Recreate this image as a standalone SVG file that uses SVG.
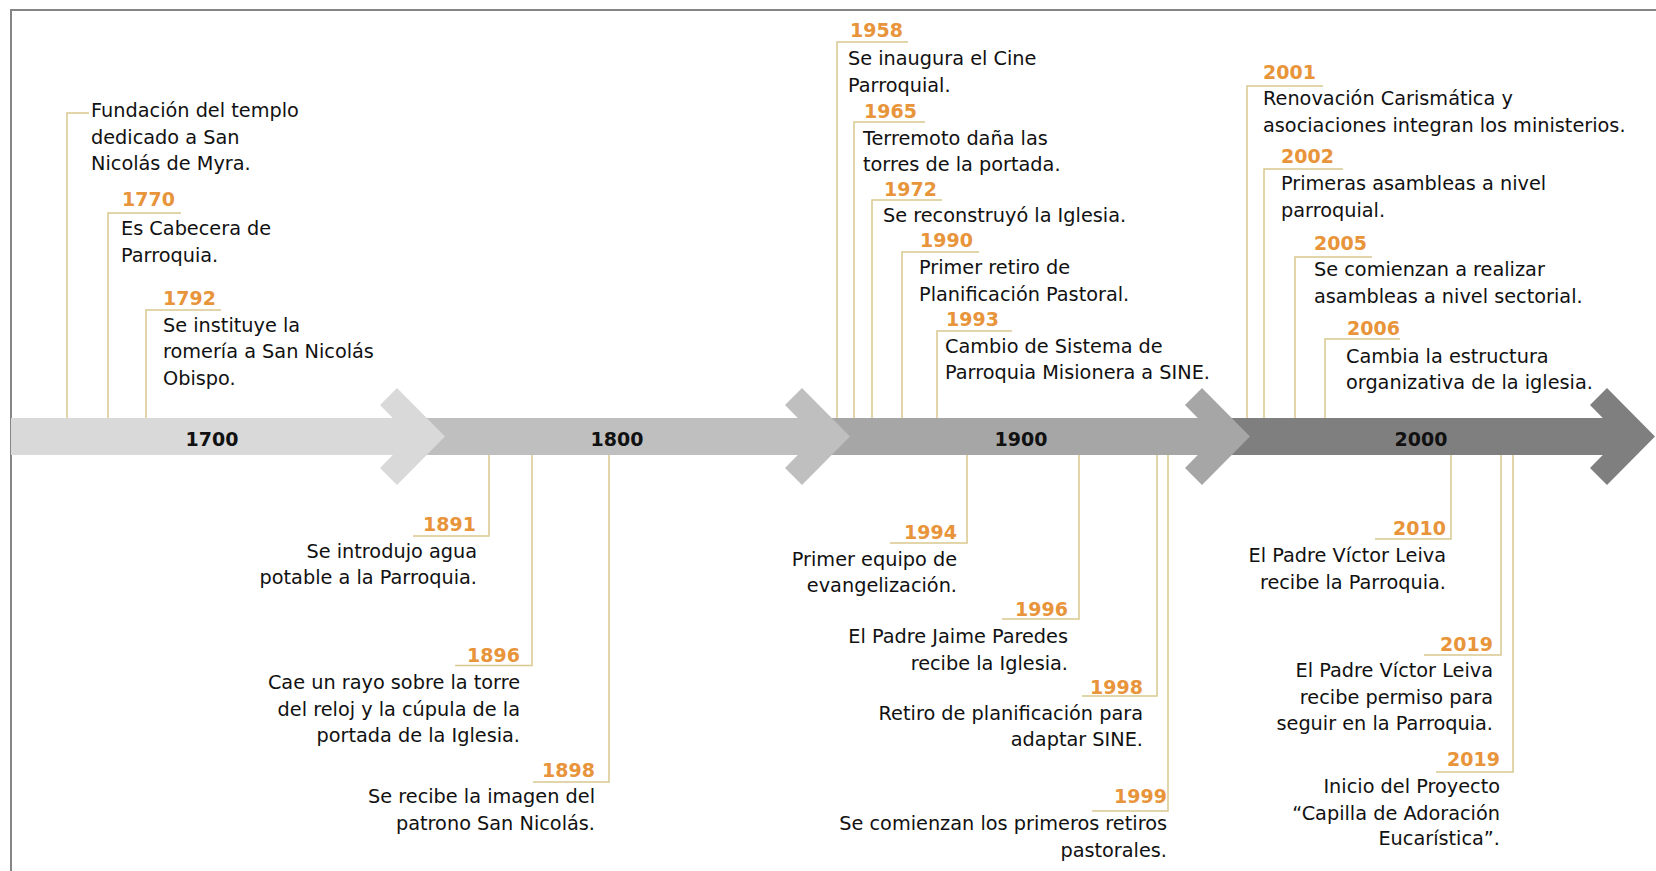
<svg xmlns="http://www.w3.org/2000/svg" width="1656" height="871" viewBox="0 0 1656 871">
<style>
.t{font-family:"DejaVu Sans","Liberation Sans",sans-serif;font-size:19.3px;fill:#111111}
.r{text-anchor:end}
.y{font-family:"DejaVu Sans","Liberation Sans",sans-serif;font-size:19px;font-weight:bold;fill:#e8943a}
.b{font-family:"DejaVu Sans","Liberation Sans",sans-serif;font-size:19px;font-weight:bold;fill:#111;text-anchor:middle}
.c{fill:none;stroke:#d9c88e;stroke-width:1.5}
.frame{fill:none;stroke:#858585;stroke-width:2}
</style>
<rect width="1656" height="871" fill="#ffffff"/>
<path class="frame" d="M11,871 V10 H1656"/>

<g id="axis">
  <g id="seg2000" fill="#7f7f7f">
    <rect x="1216" y="418" width="410" height="37"/>
    <polygon points="1590,405 1607,388 1655,436.5 1607,485 1590,468 1621,436.5"/>
    <text class="b" x="1421" y="446">2000</text>
  </g>
  <g id="seg1900" fill="#a6a6a6">
    <rect x="816" y="418" width="410" height="37"/>
    <polygon points="1185,405 1202,388 1250,436.5 1202,485 1185,468 1216,436.5"/>
    <text class="b" x="1021" y="446">1900</text>
  </g>
  <g id="seg1800" fill="#bfbfbf">
    <rect x="411" y="418" width="412" height="37"/>
    <polygon points="785,405 802,388 850,436.5 802,485 785,468 816,436.5"/>
    <text class="b" x="617" y="446">1800</text>
  </g>
  <g id="seg1700" fill="#d9d9d9">
    <rect x="11" y="418" width="407" height="37"/>
    <polygon points="380,405 397,388 445,436.5 397,485 380,468 411,436.5"/>
    <text class="b" x="212" y="446">1700</text>
  </g>
</g>

<g id="connectors">
  <polyline class="c" points="89,113 67,113 67,418"/>
  <polyline class="c" points="181,213 108,213 108,418"/>
  <polyline class="c" points="221,310 146,310 146,418"/>
  <polyline class="c" points="908,42 837,42 837,418"/>
  <polyline class="c" points="925,122 854,122 854,418"/>
  <polyline class="c" points="942,200 872,200 872,418"/>
  <polyline class="c" points="979,252 902,252 902,418"/>
  <polyline class="c" points="1012,331 937,331 937,418"/>
  <polyline class="c" points="1323,86 1247,86 1247,418"/>
  <polyline class="c" points="1343,169 1264,169 1264,418"/>
  <polyline class="c" points="1372,257 1295,257 1295,418"/>
  <polyline class="c" points="1400,339 1325,339 1325,418"/>
  <polyline class="c" points="413,536 489,536 489,455"/>
  <polyline class="c" points="455,665.5 532,665.5 532,455"/>
  <polyline class="c" points="533,782 609,782 609,455"/>
  <polyline class="c" points="890,543 967,543 967,455"/>
  <polyline class="c" points="1002,619 1079,619 1079,455"/>
  <polyline class="c" points="1082,696 1157,696 1157,455"/>
  <polyline class="c" points="1092,811 1168,811 1168,455"/>
  <polyline class="c" points="1375,539 1451,539 1451,455"/>
  <polyline class="c" points="1424,655 1501,655 1501,455"/>
  <polyline class="c" points="1436,772 1513,772 1513,455"/>
</g>

<g id="e-fundacion">
  <text class="t" x="91" y="117">Fundación del templo</text>
  <text class="t" x="91" y="143.5">dedicado a San</text>
  <text class="t" x="91" y="170">Nicolás de Myra.</text>
</g>
<g id="e-1770">
  <text class="y" x="122" y="206">1770</text>
  <text class="t" x="121" y="235">Es Cabecera de</text>
  <text class="t" x="121" y="261.5">Parroquia.</text>
</g>
<g id="e-1792">
  <text class="y" x="163" y="305">1792</text>
  <text class="t" x="163" y="331.5">Se instituye la</text>
  <text class="t" x="163" y="358">romería a San Nicolás</text>
  <text class="t" x="163" y="384.5">Obispo.</text>
</g>
<g id="e-1891">
  <text class="y r" x="476" y="531">1891</text>
  <text class="t r" x="477" y="557.5">Se introdujo agua</text>
  <text class="t r" x="477" y="584">potable a la Parroquia.</text>
</g>
<g id="e-1896">
  <text class="y r" x="520" y="662">1896</text>
  <text class="t r" x="520" y="689">Cae un rayo sobre la torre</text>
  <text class="t r" x="520" y="716">del reloj y la cúpula de la</text>
  <text class="t r" x="520" y="742">portada de la Iglesia.</text>
</g>
<g id="e-1898">
  <text class="y r" x="595" y="777">1898</text>
  <text class="t r" x="595" y="803">Se recibe la imagen del</text>
  <text class="t r" x="595" y="830">patrono San Nicolás.</text>
</g>
<g id="e-1958">
  <text class="y" x="850" y="37">1958</text>
  <text class="t" x="848" y="65">Se inaugura el Cine</text>
  <text class="t" x="848" y="91.5">Parroquial.</text>
</g>
<g id="e-1965">
  <text class="y" x="864" y="118">1965</text>
  <text class="t" x="863" y="144.5">Terremoto daña las</text>
  <text class="t" x="863" y="171">torres de la portada.</text>
</g>
<g id="e-1972">
  <text class="y" x="884" y="196">1972</text>
  <text class="t" x="883" y="221.5">Se reconstruyó la Iglesia.</text>
</g>
<g id="e-1990">
  <text class="y" x="920" y="247">1990</text>
  <text class="t" x="919" y="274">Primer retiro de</text>
  <text class="t" x="919" y="300.5">Planificación Pastoral.</text>
</g>
<g id="e-1993">
  <text class="y" x="946" y="326">1993</text>
  <text class="t" x="945" y="352.5">Cambio de Sistema de</text>
  <text class="t" x="945" y="379">Parroquia Misionera a SINE.</text>
</g>
<g id="e-1994">
  <text class="y r" x="957" y="539">1994</text>
  <text class="t r" x="957" y="566">Primer equipo de</text>
  <text class="t r" x="957" y="592">evangelización.</text>
</g>
<g id="e-1996">
  <text class="y r" x="1068" y="616">1996</text>
  <text class="t r" x="1068" y="643">El Padre Jaime Paredes</text>
  <text class="t r" x="1068" y="669.5">recibe la Iglesia.</text>
</g>
<g id="e-1998">
  <text class="y r" x="1143" y="694">1998</text>
  <text class="t r" x="1143" y="720">Retiro de planificación para</text>
  <text class="t r" x="1143" y="746">adaptar SINE.</text>
</g>
<g id="e-1999">
  <text class="y r" x="1167" y="803">1999</text>
  <text class="t r" x="1167" y="830">Se comienzan los primeros retiros</text>
  <text class="t r" x="1167" y="856.5">pastorales.</text>
</g>
<g id="e-2001">
  <text class="y" x="1263" y="79">2001</text>
  <text class="t" x="1263" y="105">Renovación Carismática y</text>
  <text class="t" x="1263" y="131.5">asociaciones integran los ministerios.</text>
</g>
<g id="e-2002">
  <text class="y" x="1281" y="163">2002</text>
  <text class="t" x="1281" y="190">Primeras asambleas a nivel</text>
  <text class="t" x="1281" y="216.5">parroquial.</text>
</g>
<g id="e-2005">
  <text class="y" x="1314" y="249.5">2005</text>
  <text class="t" x="1314" y="276">Se comienzan a realizar</text>
  <text class="t" x="1314" y="302.5">asambleas a nivel sectorial.</text>
</g>
<g id="e-2006">
  <text class="y" x="1347" y="335">2006</text>
  <text class="t" x="1346" y="362.5">Cambia la estructura</text>
  <text class="t" x="1346" y="389">organizativa de la iglesia.</text>
</g>
<g id="e-2010">
  <text class="y r" x="1446" y="535">2010</text>
  <text class="t r" x="1446" y="562">El Padre Víctor Leiva</text>
  <text class="t r" x="1446" y="588.5">recibe la Parroquia.</text>
</g>
<g id="e-2019a">
  <text class="y r" x="1493" y="651">2019</text>
  <text class="t r" x="1493" y="677">El Padre Víctor Leiva</text>
  <text class="t r" x="1493" y="703.5">recibe permiso para</text>
  <text class="t r" x="1493" y="730">seguir en la Parroquia.</text>
</g>
<g id="e-2019b">
  <text class="y r" x="1500" y="766">2019</text>
  <text class="t r" x="1500" y="793">Inicio del Proyecto</text>
  <text class="t r" x="1500" y="819.5">“Capilla de Adoración</text>
  <text class="t r" x="1500" y="845">Eucarística”.</text>
</g>
</svg>
